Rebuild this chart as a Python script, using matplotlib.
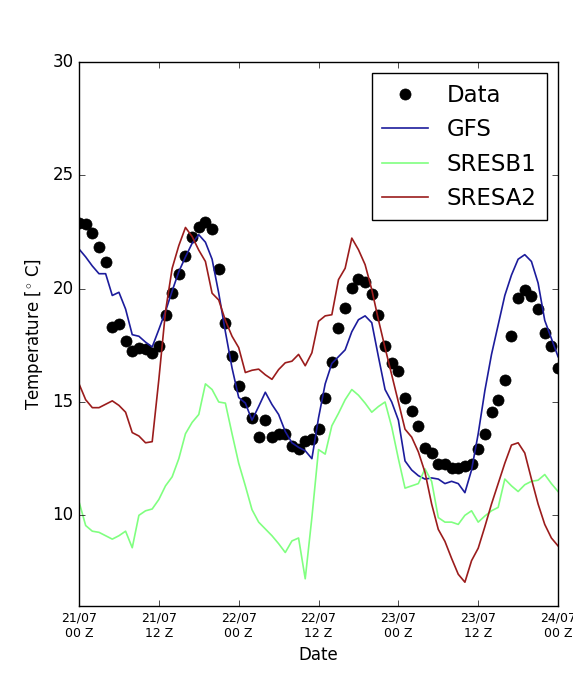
import numpy as np
import matplotlib
matplotlib.use('Agg')
import matplotlib.pyplot as plt

plt.style.use('classic')

# hours since 21/07 00 Z, hourly values
hours = np.arange(73)

obs = [22.9, 22.85, 22.45, 21.86, 21.16, 18.3, 18.46, 17.68, 17.24, 17.37,
       17.33, 17.14, 17.46, 18.85, 19.81, 20.66, 21.45, 22.28, 22.73, 22.92,
       22.65, 20.86, 18.49, 17.02, 15.7, 14.99, 14.3, 13.47, 14.19, 13.47,
       13.57, 13.57, 13.06, 12.94, 13.28, 13.35, 13.82, 15.19, 16.75, 18.27,
       19.15, 20.03, 20.43, 20.28, 19.78, 18.85, 17.49, 16.73, 16.36, 15.19,
       14.6, 13.94, 12.98, 12.76, 12.25, 12.25, 12.1, 12.1, 12.17, 12.25,
       12.91, 13.57, 14.55, 15.08, 15.96, 17.9, 19.59, 19.96, 19.69, 19.1,
       18.04, 17.49, 16.5]

gfs = [21.75, 21.4, 21.0, 20.66, 20.66, 19.7, 19.84, 19.1, 17.97, 17.9,
       17.64, 17.43, 18.2, 19.0, 19.9, 20.75, 21.4, 22.0, 22.38, 22.05,
       21.3, 19.8, 18.1, 16.5, 15.2, 14.95, 14.2, 14.8, 15.43, 14.89,
       14.45, 13.7, 13.2, 13.0, 12.85, 12.5, 14.3, 15.8, 16.7, 17.0,
       17.3, 18.1, 18.63, 18.8, 18.5, 17.0, 15.55, 15.0, 14.2, 12.4,
       12.0, 11.75, 11.6, 11.65, 11.6, 11.4, 11.5, 11.4, 11.0, 12.0,
       13.6, 15.5, 17.1, 18.4, 19.7, 20.6, 21.3, 21.5, 21.2, 20.25,
       18.6, 17.8, 17.0]

sresb1 = [10.6, 9.55, 9.3, 9.25, 9.1, 8.95, 9.1, 9.3, 8.57, 10.0,
          10.2, 10.28, 10.7, 11.3, 11.7, 12.5, 13.6, 14.1, 14.45, 15.8,
          15.55, 15.0, 14.95, 13.6, 12.3, 11.3, 10.25, 9.7, 9.4, 9.1,
          8.75, 8.36, 8.87, 9.0, 7.2, 9.9, 12.9, 12.7, 13.95, 14.5,
          15.1, 15.55, 15.3, 14.95, 14.55, 14.8, 15.0, 13.9, 12.5, 11.2,
          11.3, 11.4, 12.05, 11.5, 9.9, 9.7, 9.7, 9.6, 10.0, 10.2,
          9.7, 9.97, 10.2, 10.35, 11.6, 11.3, 11.05, 11.35, 11.5, 11.55,
          11.8, 11.4, 11.05]

sresa2 = [15.8, 15.1, 14.75, 14.75, 14.9, 15.05, 14.85, 14.55, 13.65, 13.5,
          13.2, 13.25, 16.0, 19.0, 20.9, 21.9, 22.7, 22.3, 21.7, 21.2,
          19.8, 19.5, 18.6, 17.9, 17.4, 16.3, 16.4, 16.45, 16.2, 16.0,
          16.43, 16.73, 16.8, 17.1, 16.6, 17.17, 18.56, 18.8, 18.85, 20.4,
          20.9, 22.23, 21.72, 21.06, 19.96, 18.63, 17.39, 16.2, 15.0, 13.8,
          13.45, 12.8, 11.9, 10.5, 9.38, 8.85, 8.1, 7.4, 7.05, 8.0,
          8.55, 9.5, 10.5, 11.4, 12.3, 13.1, 13.2, 12.75, 11.6, 10.5,
          9.6, 9.0, 8.65]

tick_hours = [0, 12, 24, 36, 48, 60, 72]
tick_labels = ['21/07\n00 Z', '21/07\n12 Z', '22/07\n00 Z', '22/07\n12 Z',
               '23/07\n00 Z', '23/07\n12 Z', '24/07\n00 Z']

fig = plt.figure(figsize=(5.73, 6.74), dpi=100, facecolor='white')
ax = fig.add_axes([0.1379, 0.1009, 0.836, 0.8071])

ax.plot(hours, obs, 'o', color='black', markersize=8, label='Data')
ax.plot(hours, gfs, '-', color='#1c1c9c', linewidth=1.2, label='GFS')
ax.plot(hours, sresb1, '-', color='#80ff80', linewidth=1.2, label='SRESB1')
ax.plot(hours, sresa2, '-', color='#9b1c1c', linewidth=1.2, label='SRESA2')

ax.set_xlim(0, 72)
ax.set_ylim(6, 30)
ax.set_xticks(tick_hours)
ax.set_xticklabels(tick_labels, fontsize=9)
ax.set_yticks([10, 15, 20, 25, 30])
ax.tick_params(axis='y', labelsize=12)
ax.set_xlabel('Date', fontsize=12)
ax.set_ylabel(r'Temperature [$^{\circ}$ C]', fontsize=12)

ax.legend(loc='upper right', numpoints=1, fontsize=16.5, borderpad=0.45)

fig.savefig('out.png', dpi=100, facecolor='white')
